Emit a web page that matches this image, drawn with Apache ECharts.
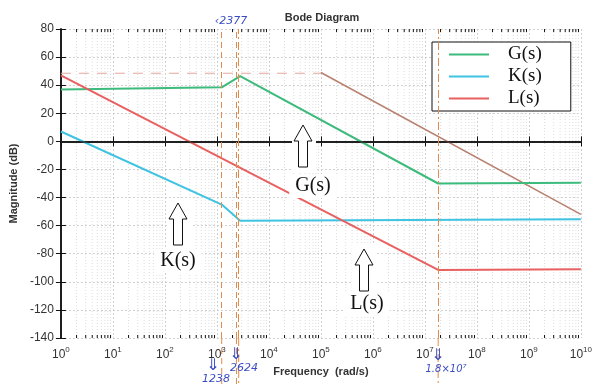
<!DOCTYPE html>
<html>
<head>
<meta charset="utf-8">
<script src="https://cdn.jsdelivr.net/npm/echarts@6/dist/echarts.min.js"></script>
<style>html,body{margin:0;background:#fff}#main{width:595px;height:385px}</style>
</head>
<body>
<div id="main"></div>
<script>
// 频率 (rad/s) / 幅值 (dB)
var gFreq = [1, 1238, 2800, 1.8e7, 1e10];
var gMag = [37, 38.5, 46.5, -30, -29.5];
var kFreq = [1, 1238, 2800, 1e10];
var kMag = [7, -45, -56.5, -55.5];
var lFreq = [1, 1.8e7, 1e10];
var lMag = [47, -91.5, -91];
// 手画的参考线
var refFreq = [1, 1e5];
var refMag = [48.5, 48.5];
var slopeFreq = [1e5, 1e10];
var slopeMag = [49, -52];
// 标出的转折频率
var cornerFreq = [1238, 2377, 2624, 1.8e7];
var cornerDash = [[6, 4], [6, 4], [8, 3, 2, 3], [8, 3, 2, 3]];
// 坐标轴 (x 轴按 log10(频率) 画)
var yMin = -140, yMax = 80, yStep = 20;
var decMin = 0, decMax = 10;

var minorFreq = [];
for (var d = decMin; d < decMax; d++) {
  for (var k = 2; k < 10; k++) minorFreq.push([Math.log10(k * Math.pow(10, d)), 0]);
}

function zip(a, b) {
  return a.map(function (v, i) { return [Math.log10(v), b[i]]; });
}

var chart = echarts.init(document.getElementById('main'));

var axisFont = { fontFamily: 'Liberation Sans', color: '#333' };

chart.setOption({
  animation: false,
  backgroundColor: '#fff',
  title: {
    text: 'Bode Diagram', left: 317, top: 7, textAlign: 'center',
    textStyle: { fontFamily: 'Liberation Sans', fontSize: 11, fontWeight: 'bold', color: '#333' }
  },
  grid: { left: 52, right: 13, top: 29, bottom: 47 },
  legend: {
    data: ['G(s)', 'K(s)', 'L(s)'],
    orient: 'vertical', left: 432, top: 42,
    icon: 'rect', itemWidth: 40, itemHeight: 2, itemGap: 1,
    padding: [2, 29, 2, 17],
    backgroundColor: '#fff', borderColor: '#111', borderWidth: 1,
    textStyle: { fontFamily: 'Liberation Serif', fontSize: 19, color: '#111', padding: [0, 0, 0, 14], lineHeight: 21 }
  },
  xAxis: [{
    type: 'value', min: decMin, max: decMax, interval: 1,
    name: 'Frequency  (rad/s)', nameLocation: 'middle', nameGap: 28,
    nameTextStyle: { fontFamily: 'Liberation Sans', fontSize: 11, fontWeight: 'bold', color: '#333' },
    axisLine: { lineStyle: { color: '#111', width: 1.5 } },
    axisTick: { inside: true, length: 5, lineStyle: { color: '#111' } },
    axisLabel: {
      margin: 8,
      formatter: function (v) {
        return '{b|10}{e|' + v + '}';
      },
      rich: {
        b: { fontFamily: 'Liberation Sans', fontSize: 12, color: '#333' },
        e: { fontFamily: 'Liberation Sans', fontSize: 8, color: '#333', padding: [0, 0, 9, 0] }
      }
    },
    splitLine: { show: true, lineStyle: { color: '#cfcfcf', type: [2, 2] } }
  }, {
    type: 'value', min: decMin, max: decMax, interval: 1, position: 'top',
    axisLine: { lineStyle: { color: '#111', width: 1.5 } },
    axisTick: { inside: true, length: 5, lineStyle: { color: '#111' } },
    axisLabel: { show: false }, splitLine: { show: false }
  }],
  yAxis: [{
    type: 'value', min: yMin, max: yMax, interval: yStep,
    name: 'Magnitude (dB)', nameLocation: 'middle', nameGap: 37,
    nameTextStyle: { fontFamily: 'Liberation Sans', fontSize: 11, fontWeight: 'bold', color: '#333' },
    axisLine: { show: true, lineStyle: { color: '#111', width: 1.5 } },
    axisTick: { show: true, inside: true, length: 5, lineStyle: { color: '#111' } },
    axisLabel: Object.assign({ fontSize: 12, margin: 7 }, axisFont),
    splitLine: { show: true, lineStyle: { color: '#cfcfcf', type: [2, 2] } }
  }, {
    type: 'value', min: yMin, max: yMax, interval: yStep, position: 'right',
    axisLine: { show: true, lineStyle: { color: '#111', width: 1.5 } },
    axisTick: { show: true, inside: true, length: 5, lineStyle: { color: '#111' } },
    axisLabel: { show: false }, splitLine: { show: false }
  }],
  series: [{
    type: 'custom', silent: true, z: 0,
    data: minorFreq,
    encode: { x: 0, y: 1 },
    renderItem: function (params, api) {
      var t = api.coord([api.value(0), yMax]);
      var b = api.coord([api.value(0), yMin]);
      return {
        type: 'group', children: [
          { type: 'line', shape: { x1: t[0], y1: t[1], x2: b[0], y2: b[1] }, style: { stroke: '#dedede', lineWidth: 1, lineDash: [1, 2] } },
          { type: 'line', shape: { x1: b[0], y1: b[1], x2: b[0], y2: b[1] - 3 }, style: { stroke: '#111', lineWidth: 1 } },
          { type: 'line', shape: { x1: t[0], y1: t[1], x2: t[0], y2: t[1] + 3 }, style: { stroke: '#111', lineWidth: 1 } }
        ]
      };
    }
  }, {
    name: 'ref', type: 'line', data: zip(refFreq, refMag), symbol: 'none', silent: true,
    lineStyle: { color: '#e4a8a0', width: 1.2, type: [10, 8] }
  }, {
    name: 'slope', type: 'line', data: zip(slopeFreq, slopeMag), symbol: 'none', silent: true,
    lineStyle: { color: '#b98070', width: 1.6 }
  }, {
    name: 'G(s)', type: 'line', data: zip(gFreq, gMag), symbol: 'none',
    itemStyle: { color: '#3dbb7c' }, lineStyle: { color: '#3dbb7c', width: 2 },
    markLine: {
      silent: true, symbol: 'none', label: { show: false },
      data: [{ yAxis: 0, lineStyle: { color: '#222', width: 1.5, type: 'solid' } }].concat(
        cornerFreq.map(function (f, i) {
          return { xAxis: Math.log10(f), lineStyle: { color: '#e08a4c', width: 1, type: cornerDash[i] } };
        }))
    }
  }, {
    name: 'K(s)', type: 'line', data: zip(kFreq, kMag), symbol: 'none',
    itemStyle: { color: '#3ec3e3' }, lineStyle: { color: '#3ec3e3', width: 2 }
  }, {
    name: 'L(s)', type: 'line', data: zip(lFreq, lMag), symbol: 'none',
    itemStyle: { color: '#e8605f' }, lineStyle: { color: '#e8605f', width: 2 }
  }]
});

// 箭头和手写标注
function arrow(cx, tipY) {
  return {
    type: 'polygon', z: 100,
    shape: { points: [[cx, tipY], [cx + 9, tipY + 16], [cx + 4.5, tipY + 16], [cx + 4.5, tipY + 42],
      [cx - 4.5, tipY + 42], [cx - 4.5, tipY + 16], [cx - 9, tipY + 16]] },
    style: { fill: '#fff', stroke: '#111', lineWidth: 1 }
  };
}
function label(txt, cx, cy) {
  return {
    type: 'text', z: 100, x: cx, y: cy,
    style: { text: txt, fontFamily: 'Liberation Serif', fontSize: 20, fill: '#111', align: 'center', verticalAlign: 'middle',
      backgroundColor: '#fff', padding: [2, 6] }
  };
}
function blue(txt, cx, cy, size) {
  return {
    type: 'text', z: 100, x: cx, y: cy,
    style: { text: txt, fontFamily: 'DejaVu Sans', fontStyle: 'italic', fontSize: size || 11, fill: '#3a4cc4', align: 'center', verticalAlign: 'middle' }
  };
}
var g = [];
g.push({ type: 'rect', z: 99, shape: { x: 292, y: 120, width: 24, height: 52 }, style: { fill: '#fff' } });
g.push(arrow(303, 125), label('G(s)', 313, 186));
g.push({ type: 'rect', z: 99, shape: { x: 167, y: 198, width: 24, height: 52 }, style: { fill: '#fff' } });
g.push(arrow(178, 203), label('K(s)', 178, 261));
g.push({ type: 'rect', z: 99, shape: { x: 352, y: 244, width: 24, height: 52 }, style: { fill: '#fff' } });
g.push(arrow(364, 249), label('L(s)', 367, 304));
cornerFreq.forEach(function (f, i) {
  var p = chart.convertToPixel({ xAxisIndex: 0 }, Math.log10(f));
  g.push({ type: 'line', z: 50, shape: { x1: p, y1: 338, x2: p, y2: 385 },
    style: { stroke: '#e08a4c', lineWidth: 1, lineDash: cornerDash[i] } });
});
g.push(blue('‹2377', 231, 21));
g.push(blue('⇓', 236, 355, 16), blue('2624', 244, 368));
g.push(blue('⇓', 213, 366, 16), blue('1238', 216, 379));
g.push(blue('⇓', 438, 356, 16), blue('1.8×10⁷', 446, 369, 10));
chart.setOption({ graphic: g });
</script>
</body>
</html>
